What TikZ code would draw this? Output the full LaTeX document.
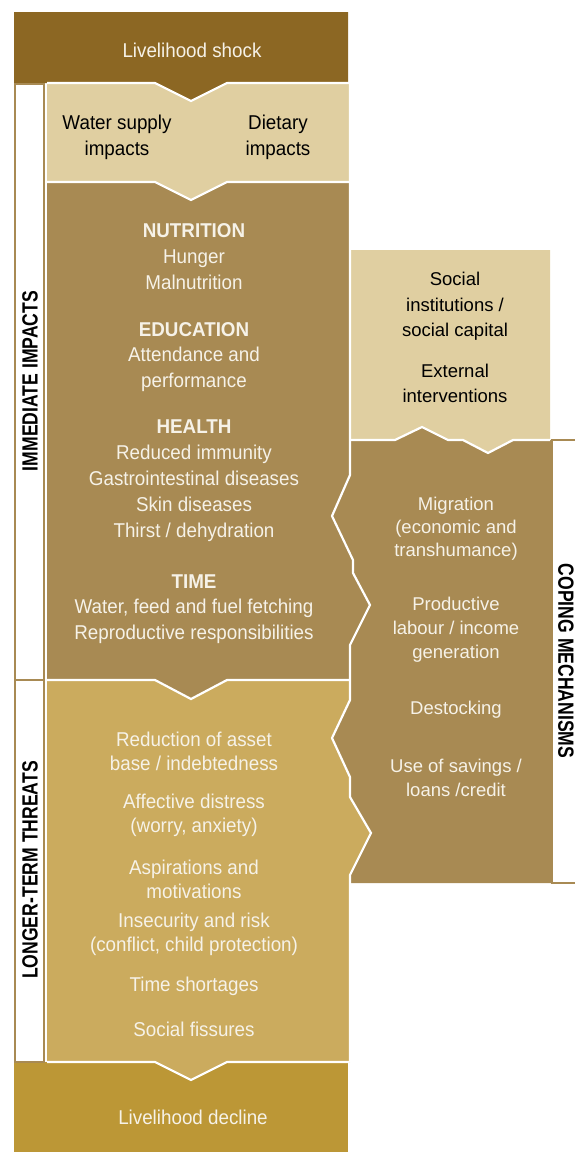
\documentclass[tikz,border=0pt]{standalone}
\usepackage{fontspec}
\setmainfont{Liberation Sans}
\newfontfamily\cndfont[FakeStretch=0.94]{Liberation Sans}
\newfontfamily\barfont[FakeStretch=0.8]{Liberation Sans}
\definecolor{shockc}{HTML}{8C6723}
\definecolor{lightc}{HTML}{E0CFA1}
\definecolor{brownc}{HTML}{A88A53}
\definecolor{goldc}{HTML}{CBAB5E}
\definecolor{declc}{HTML}{BC9736}
\definecolor{creamc}{HTML}{F6F2E8}
\tikzset{
  wline/.style={draw=white, line width=2.2pt, line join=miter},
  barbox/.style={draw=brownc, line width=2pt, fill=white},
  ltxt/.style={text=creamc, font=\cndfont\fontsize{20}{26}\selectfont, align=center, inner sep=0pt},
  dtxt/.style={text=black, font=\cndfont\fontsize{20}{26}\selectfont, align=center, inner sep=0pt},
  rtxt/.style={text=creamc, font=\fontsize{18.5}{24}\selectfont, align=center, inner sep=0pt},
  rdtxt/.style={text=black, font=\fontsize{18.5}{25.5}\selectfont, align=center, inner sep=0pt},
  bartxt/.style={text=black, font=\barfont\bfseries\fontsize{22}{24}\selectfont, inner sep=0pt}
}
\begin{document}
\begin{tikzpicture}[x=1pt,y=-1pt]
\useasboundingbox (0,0) rectangle (575,1152);
% fills
\fill[declc] (14,1062) rectangle (348,1152);
\fill[goldc] (47,680) -- (350,680) -- (350,700) -- (332,738) -- (350,777) -- (350,797) -- (371,833) -- (350,875) -- (350,1062) -- (227,1062) -- (191,1080) -- (155,1062) -- (47,1062) -- cycle;
\fill[brownc] (47,182) -- (350,182) -- (350,475) -- (332,516) -- (353,560) -- (353,573) -- (370,605) -- (350,645) -- (350,680) -- (227,680) -- (191,699) -- (155,680) -- (47,680) -- cycle;
\fill[lightc] (47,83) -- (349,83) -- (349,182) -- (227,182) -- (191,200) -- (155,182) -- (47,182) -- cycle;
\fill[shockc] (14,12) -- (348,12) -- (348,83) -- (227,83) -- (191,101) -- (155,83) -- (14,83) -- cycle;
\fill[lightc] (351,250) -- (550,250) -- (550,440) -- (513,440) -- (488,453) -- (463,440) -- (448,440) -- (422,427) -- (395,440) -- (351,440) -- cycle;
\fill[brownc] (551,440) -- (513,440) -- (488,453) -- (463,440) -- (448,440) -- (422,427) -- (395,440) -- (350,440) -- (350,475) -- (332,516) -- (353,560) -- (353,573) -- (370,605) -- (350,645) -- (350,700) -- (332,738) -- (350,777) -- (350,797) -- (371,833) -- (350,875) -- (350,883) -- (551,883) -- cycle;
% white separators
\draw[wline] (47,83) -- (155,83) -- (191,101) -- (227,83) -- (349,83);
\draw[wline] (47,182) -- (155,182) -- (191,200) -- (227,182) -- (350,182);
\draw[wline] (47,680) -- (155,680) -- (191,699) -- (227,680) -- (350,680);
\draw[wline] (47,1062) -- (155,1062) -- (191,1080) -- (227,1062) -- (349,1062);
\draw[wline] (350,83) -- (350,475) -- (332,516) -- (353,560) -- (353,573) -- (370,605) -- (350,645) -- (350,700) -- (332,738) -- (350,777) -- (350,797) -- (371,833) -- (350,875) -- (350,1062);
\draw[wline] (350,440) -- (395,440) -- (422,427) -- (448,440) -- (463,440) -- (488,453) -- (513,440) -- (550,440);
% side label boxes
\draw[barbox] (15,84) rectangle (44.3,680);
\draw[barbox] (15,680) rectangle (44.3,1062);
\draw[barbox] (551.5,440) rectangle (600,883);
\node[bartxt, rotate=90] (imm) at (30,381) {IMMEDIATE IMPACTS};
\node[bartxt, rotate=90] (ltt) at (30,870) {LONGER-TERM THREATS};
\node[bartxt, rotate=-90] (cop) at (566,661) {COPING MECHANISMS};
% texts
\node[ltxt] (shock) at (192,50) {Livelihood shock};
\node[dtxt] (water) at (117,137) {Water supply\\impacts};
\node[dtxt] (diet) at (278,137) {Dietary\\impacts};
\node[ltxt] (nut) at (194,257) {{\bfseries NUTRITION}\\Hunger\\Malnutrition};
\node[ltxt, font=\cndfont\fontsize{20}{25.5}\selectfont] (edu) at (194,357) {{\bfseries EDUCATION}\\Attendance and\\performance};
\node[ltxt] (hea) at (194,481) {{\bfseries HEALTH}\\Reduced immunity\\Gastrointestinal diseases\\Skin diseases\\Thirst / dehydration};
\node[ltxt, font=\cndfont\fontsize{20}{25.5}\selectfont] (tim) at (194,609) {{\bfseries TIME}\\Water, feed and fuel fetching\\Reproductive responsibilities};
\node[ltxt, font=\cndfont\fontsize{20}{24}\selectfont] (red) at (194,751) {Reduction of asset\\base / indebtedness};
\node[ltxt, font=\cndfont\fontsize{20}{24}\selectfont] (aff) at (194,815) {Affective distress\\(worry, anxiety)};
\node[ltxt, font=\cndfont\fontsize{20}{24}\selectfont] (asp) at (194,879) {Aspirations and\\motivations};
\node[ltxt, font=\cndfont\fontsize{20}{24}\selectfont] (ins) at (194,934) {Insecurity and risk\\(conflict, child protection)};
\node[ltxt] (tsh) at (194,986) {Time shortages};
\node[ltxt] (sfi) at (194,1029) {Social fissures};
\node[ltxt] (decl) at (193,1117) {Livelihood decline};
\node[rdtxt] (soc) at (455,306.5) {Social\\institutions /\\social capital};
\node[rdtxt] (ext) at (455,383.5) {External\\interventions};
\node[rtxt, font=\fontsize{18.5}{23}\selectfont] (mig) at (456,529) {Migration\\(economic and\\transhumance)};
\node[rtxt] (prod) at (456,630) {Productive\\labour / income\\generation};
\node[rtxt] (dest) at (456,710) {Destocking};
\node[rtxt] (sav) at (456,778) {Use of savings /\\loans /credit};
\end{tikzpicture}
\end{document}
